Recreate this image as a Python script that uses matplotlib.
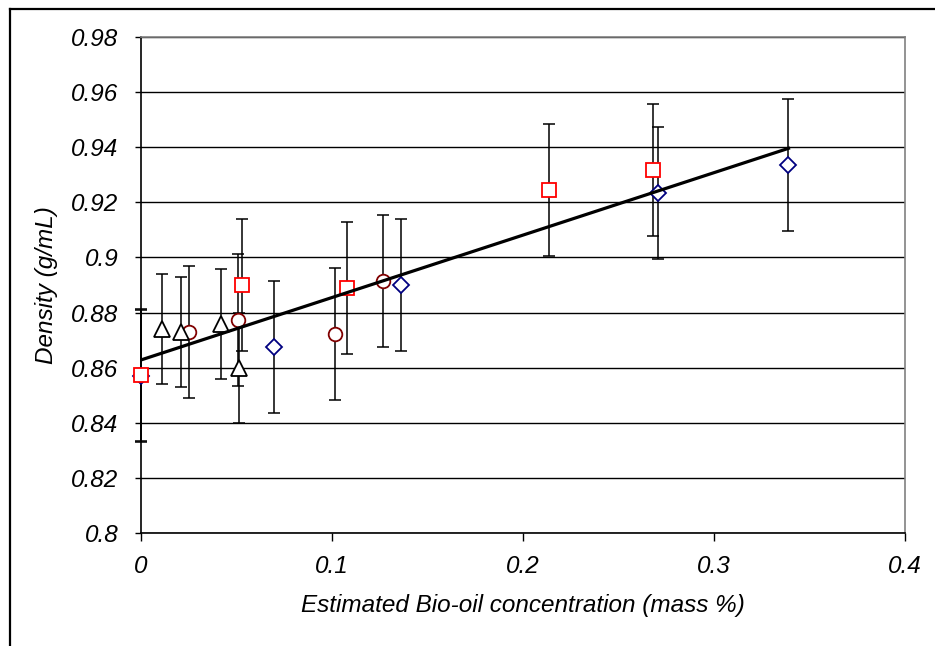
import matplotlib
matplotlib.use("Agg")
import matplotlib.pyplot as plt
from matplotlib.lines import Line2D

plt.rcParams["font.family"] = ["Liberation Sans", "DejaVu Sans"]
plt.rcParams["font.style"] = "italic"

# bio-oil blends: concentration (mass %) vs density (g/mL)
diamond_x = [0.0, 0.0696, 0.136, 0.2707, 0.3387]
diamond_y = [0.857, 0.8675, 0.890, 0.9234, 0.9335]

circle_x = [0.0251, 0.0508, 0.1016, 0.1267]
circle_y = [0.873, 0.8773, 0.8722, 0.8914]

triangle_x = [0.011, 0.021, 0.042, 0.0513]
triangle_y = [0.874, 0.873, 0.8758, 0.8599]

square_x = [0.0, 0.0529, 0.1079, 0.2136, 0.268]
square_y = [0.8573, 0.890, 0.889, 0.9245, 0.9317]

err_main = 0.024
err_triangle = 0.020

# linear trend line end points
trend_x = [0.0, 0.339]
trend_y = [0.8628, 0.9396]

y_ticks = [0.8, 0.82, 0.84, 0.86, 0.88, 0.9, 0.92, 0.94, 0.96, 0.98]
y_tick_labels = ["0.8", "0.82", "0.84", "0.86", "0.88", "0.9", "0.92", "0.94", "0.96", "0.98"]
x_ticks = [0, 0.1, 0.2, 0.3, 0.4]
x_tick_labels = ["0", "0.1", "0.2", "0.3", "0.4"]

fig = plt.figure(figsize=(9.35, 6.46), dpi=100)
ax = fig.add_axes([141 / 935, 1 - 533 / 646, 764 / 935, 496 / 646])

series = [
    (diamond_x, diamond_y, err_main, "D", "#000080", 8),
    (circle_x, circle_y, err_main, "o", "#800000", 9.8),
    (triangle_x, triangle_y, err_triangle, "^", "black", 11.8),
    (square_x, square_y, err_main, "s", "#ff0000", 10.2),
]
for i, (xs, ys, err, mk, col, ms) in enumerate(series):
    eb = ax.errorbar(xs, ys, yerr=err, fmt="none", ecolor="black", elinewidth=1.1,
                     capsize=4.2, capthick=1.1, zorder=3 + i * 0.1)
    for art in eb.lines[1] + eb.lines[2]:
        art.set_clip_on(False)
    ax.plot(xs, ys, linestyle="none", marker=mk, markersize=ms,
            markerfacecolor="white", markeredgecolor=col, markeredgewidth=1.3,
            zorder=4 + i * 0.1, clip_on=False)

ax.plot(trend_x, trend_y, color="black", linewidth=2.3, zorder=6)

ax.set_xlim(0, 0.4)
ax.set_ylim(0.8, 0.98)
ax.set_xticks(x_ticks)
ax.set_xticklabels(x_tick_labels)
ax.set_yticks(y_ticks)
ax.set_yticklabels(y_tick_labels)
ax.tick_params(axis="both", direction="out", labelsize=17.5, width=1, color="black")
ax.tick_params(axis="x", length=6, pad=10)
ax.tick_params(axis="y", length=4.3, pad=12)

ax.set_axisbelow(True)
ax.yaxis.grid(True, color="black", linewidth=1.0)
ax.xaxis.grid(False)

for side in ("top", "right"):
    ax.spines[side].set_color("#808080")
    ax.spines[side].set_linewidth(1.2)
for side in ("left", "bottom"):
    ax.spines[side].set_color("black")
    ax.spines[side].set_linewidth(1.2)

ax.set_xlabel("Estimated Bio-oil concentration (mass %)", fontsize=17.5)
ax.set_ylabel("Density (g/mL)", fontsize=17.5)
ax.xaxis.set_label_coords(0.5, -0.122)
ax.yaxis.set_label_coords(-0.108, 0.5)

# outer frame, left and top edges
fig.add_artist(Line2D([10 / 935, 10 / 935], [0, 1 - 9 / 646], transform=fig.transFigure,
                      color="black", linewidth=1.6))
fig.add_artist(Line2D([10 / 935, 1], [1 - 9 / 646, 1 - 9 / 646], transform=fig.transFigure,
                      color="black", linewidth=1.6))

fig.savefig("out.png", dpi=100, facecolor="white")
